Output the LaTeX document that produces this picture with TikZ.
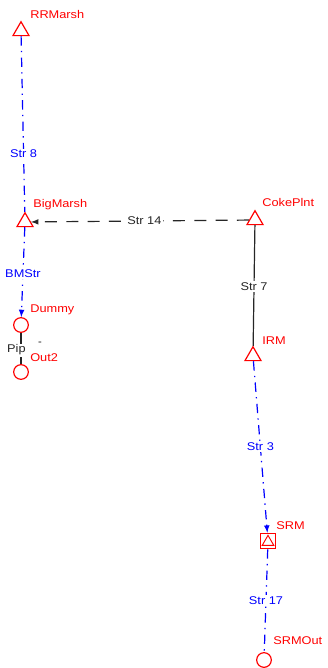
\documentclass[tikz,border=0pt]{standalone}
\usepackage{fontspec}
\setmainfont{Liberation Sans}
\usetikzlibrary{shapes.geometric}
\tikzset{
  >=latex,
}
\tikzstyle{every node}=[font=\fontsize{8.4}{10}\selectfont]
\tikzstyle{junction}=[draw=red,regular polygon,regular polygon sides=3,minimum size=13.9pt,inner sep=0pt,line width=.9pt]
\tikzstyle{outlet}=[draw=red,circle,minimum size=11pt,inner sep=0pt,line width=.9pt]
\tikzstyle{storage}=[draw=red,rectangle,minimum size=11.5pt,inner sep=0pt,line width=.9pt]
\tikzstyle{idlabel}=[red,anchor=west,inner sep=0pt,xscale=1.14]
\tikzstyle{stream}=[blue,line width=.9pt,dash pattern=on 7pt off 4pt on 1pt off 4pt]
\tikzstyle{pipe}=[black!85,line width=.9pt]
\tikzstyle{strlabel}=[fill=white,inner sep=1pt,xscale=1.14]

\begin{document}
\begin{tikzpicture}[x=.75pt,y=-.75pt]
  \useasboundingbox (0,0) rectangle (328,668);
  \node[junction] (rrmarsh) at (21,31) {};
  \node[junction] (bigmarsh) at (25,222) {};
  \node[junction] (cokeplnt) at (255,220) {};
  \node[junction] (irm) at (253,356) {};
  \node[storage] (srm) at (268,541) {};
  \node[junction,minimum size=10pt,line width=.7pt] (srm-in) at (268,542) {};
  \node[outlet] (dummy) at (21,325) {};
  \node[outlet] (out2) at (21,372) {};
  \node[outlet] (srmout) at (264,660) {};
  \node[idlabel] (rrmarsh-l) at (30,14) {RRMarsh};
  \node[idlabel] (bigmarsh-l) at (33,205) {BigMarsh};
  \node[idlabel] (cokeplnt-l) at (262,202) {CokePlnt};
  \node[idlabel] (irm-l) at (262,341) {IRM};
  \node[idlabel] (srm-l) at (276,526) {SRM};
  \node[idlabel] (dummy-l) at (30,310) {Dummy};
  \node[idlabel] (out2-l) at (30,358) {Out2};
  \node[idlabel] (srmout-l) at (273,641) {SRMOut};
  \draw[stream] (rrmarsh)--(bigmarsh) node[strlabel,pos=.67]{Str 8};
  \draw[pipe,->,dash pattern=on 9pt off 7pt] (cokeplnt)--(bigmarsh) node[strlabel,pos=.48]{Str 14};
  \draw[stream,->] (bigmarsh)--(dummy) node[strlabel,pos=.52]{BMStr};
  \draw[pipe] (dummy)--(out2) node[strlabel,pos=.55,xshift=-3pt]{Pip};
  \node[black!85,inner sep=0pt] (pip-mark) at (40,344) {-};
  \draw[pipe] (cokeplnt)--(irm) node[strlabel,pos=.51]{Str 7};
  \draw[stream,->] (irm)--(srm) node[strlabel,pos=.5]{Str 3};
  \draw[stream] (srm)--(srmout) node[strlabel,pos=.5]{Str 17};
\end{tikzpicture}
\end{document}
